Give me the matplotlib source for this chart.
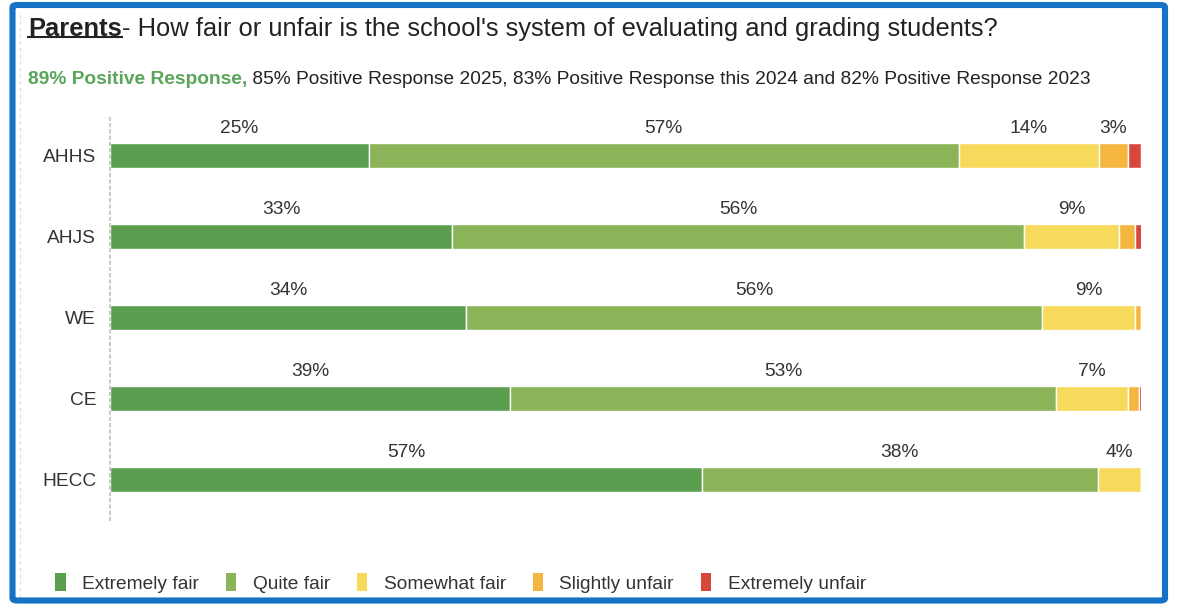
import numpy as np
import matplotlib.pyplot as plt
from matplotlib.patches import FancyBboxPatch, Patch
from matplotlib.lines import Line2D

plt.rcParams['font.family'] = ['Liberation Sans', 'DejaVu Sans']

# data (percent of responses)
schools = ['AHHS', 'AHJS', 'WE', 'CE', 'HECC']
categories = ['Extremely fair', 'Quite fair', 'Somewhat fair', 'Slightly unfair', 'Extremely unfair']
extremely_fair = [25.1, 33.2, 34.5, 38.8, 57.4]
quite_fair = [57.2, 55.5, 55.9, 53.0, 38.4]
somewhat_fair = [13.6, 9.2, 9.0, 6.9, 4.2]
slightly_unfair = [2.8, 1.5, 0.6, 1.1, 0.0]
extremely_unfair = [1.3, 0.7, 0.0, 0.3, 0.0]

colors = ['#5b9e50', '#8ab457', '#f7da5c', '#f4b63f', '#d8473c']

W, H = 1178, 608
fig = plt.figure(figsize=(W / 100, H / 100), dpi=100)

# blue frame
fig.patches.append(FancyBboxPatch((12.5 / W, 7.5 / H), (1165 - 12.5) / W, (603 - 7.5) / H,
                                  boxstyle='round,pad=0,rounding_size=0.004',
                                  transform=fig.transFigure, fill=False,
                                  edgecolor='#1572c4', linewidth=4.4, zorder=10))
fig.add_artist(Line2D([20 / W, 20 / W], [1 - 14 / H, 1 - 598 / H], transform=fig.transFigure,
                      color='#dddddd', linestyle=(0, (3, 3)), linewidth=0.8))
fig.add_artist(Line2D([20 / W, 1160 / W], [1 - 598 / H, 1 - 598 / H], transform=fig.transFigure,
                      color='#dddddd', linestyle=(0, (3, 3)), linewidth=0.8))

ax = fig.add_axes([110 / W, 1 - 520 / H, (1141 - 110) / W, (520 - 115) / H])

series = [extremely_fair, quite_fair, somewhat_fair, slightly_unfair, extremely_unfair]
y = np.arange(len(schools))
left = np.zeros(len(schools))
for vals, col, name in zip(series, colors, categories):
    vals = np.array(vals)
    ax.barh(y, vals, left=left, height=0.32, color=col, edgecolor='white', linewidth=1, label=name)
    for yi, l, v in zip(y, left, vals):
        if v >= 2.5:
            ax.text(l + v / 2, yi - 0.33, '{:.0f}%'.format(v), ha='center', va='center',
                    fontsize=13.8, color='#333333')
    left += vals

ax.set_xlim(0, 100)
ax.set_ylim(4.5, -0.5)
ax.set_yticks(y)
ax.set_yticklabels(schools, fontsize=13.8, color='#333333')
ax.tick_params(axis='y', length=0, pad=10)
ax.set_xticks([])
for s in ['top', 'right', 'bottom']:
    ax.spines[s].set_visible(False)
ax.spines['left'].set_linestyle((0, (1, 2)))
ax.spines['left'].set_color('#cccccc')
ax.spines['left'].set_linewidth(1.5)

# title with bold underlined lead word
r = fig.canvas.get_renderer()
t1 = fig.text(28 / W, 1 - 29 / H, 'Parents', fontsize=18.4, fontweight='bold', color='#222222', va='center')
bb = t1.get_window_extent(r)
fig.add_artist(Line2D([bb.x0 / W, bb.x1 / W], [(bb.y0 + 4) / H, (bb.y0 + 4) / H],
                      transform=fig.transFigure, color='#222222', linewidth=1.5))
fig.text(bb.x1 / W, 1 - 29 / H, "- How fair or unfair is the school's system of evaluating and grading students?",
         fontsize=18.4, color='#222222', va='center')

t2 = fig.text(28 / W, 1 - 80 / H, '89% Positive Response,', fontsize=13.8, fontweight='bold',
              color='#5aa55a', va='center')
bb2 = t2.get_window_extent(r)
fig.text(bb2.x1 / W, 1 - 80 / H,
         ' 85% Positive Response 2025, 83% Positive Response this 2024 and 82% Positive Response 2023',
         fontsize=13.8, color='#222222', va='center')

handles = [Patch(facecolor=c, edgecolor='none', label=n) for c, n in zip(colors, categories)]
fig.legend(handles=handles, loc='center left', bbox_to_anchor=(38 / W, 1 - 583 / H), ncol=5,
           frameon=False, fontsize=13.8, handlelength=0.55, handleheight=1.0,
           handletextpad=0.85, columnspacing=1.4, labelcolor='#333333')

fig.savefig('out.png', dpi=100, facecolor='white')
